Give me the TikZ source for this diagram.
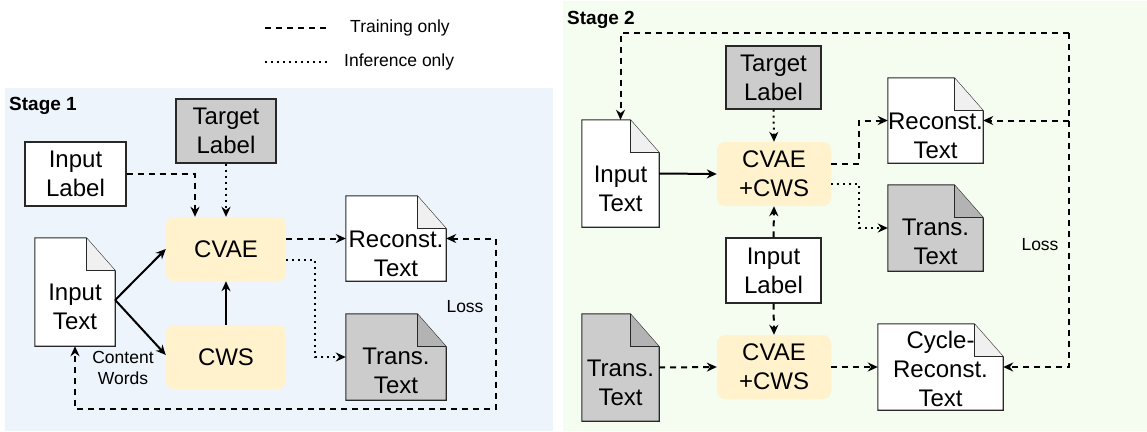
\documentclass[tikz,border=0pt]{standalone}
\usepackage{fontspec}
\setmainfont{Liberation Sans}
\usetikzlibrary{arrows.meta,calc}

\definecolor{paneA}{RGB}{237,244,252}
\definecolor{paneB}{RGB}{244,253,240}
\definecolor{modfill}{RGB}{255,242,204}
\definecolor{grayfill}{RGB}{204,204,204}
\definecolor{grayfold}{RGB}{179,179,179}
\definecolor{whitefold}{RGB}{240,240,240}
\definecolor{inkline}{RGB}{40,40,40}

\tikzset{
  every node/.style={font=\fontsize{24}{29}\selectfont, text=black},
  labelbox/.style={draw=inkline, line width=1.1pt, inner sep=0pt, align=center},
  module/.style={fill=modfill, rounded corners=8pt, inner sep=0pt, align=center,
                 minimum width=#1, minimum height=64pt},
  paper/.style={inner sep=0pt},
  papertext/.style={inner sep=0pt, align=center},
  smalltext/.style={font=\fontsize{17.5}{21}\selectfont, inner sep=0pt, align=center},
  stagetext/.style={font=\fontsize{19}{22}\selectfont\bfseries, inner sep=0pt},
  tip/.style={-{Stealth[length=10pt,width=9pt]}},
  conn/.style={line width=2pt, tip},
  train/.style={conn, dash pattern=on 6pt off 5pt},
  infer/.style={conn, dash pattern=on 2pt off 4pt},
}

% document outline with a folded top-right corner around an empty frame node
\newcommand\paperframe[3]{%
  \draw[inkline, line width=1.1pt, fill=#2, line join=miter]
    (#1.north west) -- ([xshift=-29pt]#1.north east) -- ([yshift=-33pt]#1.north east)
    -- (#1.south east) -- (#1.south west) -- cycle;
  \draw[inkline, line width=1.1pt, fill=#3]
    ([xshift=-29pt]#1.north east) -- ([xshift=-29pt,yshift=-33pt]#1.north east)
    -- ([yshift=-33pt]#1.north east);}

\begin{document}
\begin{tikzpicture}[x=1pt,y=-1pt]
\useasboundingbox (0,0) rectangle (1147,431);

% panels
\fill[paneA] (5,88) rectangle (553,431);
\fill[paneB] (563,1) rectangle (1147,431);

% legend
\coordinate (lgA1) at (265,28);
\coordinate (lgA2) at (330,28);
\coordinate (lgB1) at (265,62);
\coordinate (lgB2) at (330,62);
\draw[line width=2pt, dash pattern=on 6pt off 5pt] (lgA1) -- (lgA2);
\draw[line width=2pt, dash pattern=on 2pt off 4pt] (lgB1) -- (lgB2);
\node[smalltext, anchor=west] (lgAt) at (350,28) {Training only};
\node[smalltext, anchor=west] (lgBt) at (344,62) {Inference only};

% ---------------- Stage 1 ----------------
\node[stagetext, anchor=west] (s1) at (9,106) {Stage 1};

\node[labelbox, fill=white, minimum width=101pt, minimum height=64pt] (il1) at (75.5,174) {Input\\Label};
\node[labelbox, fill=grayfill, minimum width=100pt, minimum height=64pt] (tl1) at (226,131) {Target\\Label};
\node[module=120pt] (cvae1) at (226,249) {CVAE};
\node[module=120pt] (cws1) at (226,357) {CWS};

\node[paper, minimum width=80pt, minimum height=108pt] (it1) at (75,292) {};
\paperframe{it1}{white}{whitefold}
\node[papertext] (it1t) at ([yshift=-15pt]it1.center) {Input\\Text};

\node[paper, minimum width=100pt, minimum height=85pt] (rt1) at (396,238.5) {};
\paperframe{rt1}{white}{whitefold}
\node[papertext] (rt1t) at ([yshift=-15pt]rt1.center) {Reconst.\\Text};

\node[paper, minimum width=100pt, minimum height=86pt] (tt1) at (396,357) {};
\paperframe{tt1}{grayfill}{grayfold}
\node[papertext] (tt1t) at ([yshift=-14pt]tt1.center) {Trans.\\Text};

\draw[train] (il1.east) -| ([xshift=-31pt]cvae1.north);
\draw[infer] (tl1.south) -- (cvae1.north);
\draw[conn] ([yshift=-8pt]it1.east) -- (cvae1.west);
\draw[conn] ([yshift=-8pt]it1.east) -- ([yshift=2pt]cws1.west);
\draw[conn] (cws1.north) -- (cvae1.south);
\draw[train] (rt1.west -| cvae1.east) -- (rt1.west);
\draw[infer] ([yshift=-11pt]cvae1.east) -- ++(29,0) |- (tt1.west);

\coordinate (loop1) at (496,409);
\draw[train, {Stealth[length=10pt,width=9pt]}-{Stealth[length=10pt,width=9pt]}]
  (rt1.east) -| (loop1) -| (it1.south);
\node[smalltext] (loss1) at (465,307) {Loss};
\node[smalltext] (cw1) at (123,368) {Content\\Words};

% ---------------- Stage 2 ----------------
\node[stagetext, anchor=west] (s2) at (567,20) {Stage 2};

\node[labelbox, fill=grayfill, minimum width=95pt, minimum height=63pt] (tl2) at (773.5,77.5) {Target\\Label};
\node[module=114pt] (cc2a) at (774,174) {CVAE\\+CWS};
\node[labelbox, fill=white, minimum width=95pt, minimum height=65pt] (il2) at (773.5,270.5) {Input\\Label};
\node[module=114pt] (cc2b) at (774,367) {CVAE\\+CWS};

\node[paper, minimum width=77pt, minimum height=107pt] (it2) at (620.5,173.5) {};
\paperframe{it2}{white}{whitefold}
\node[papertext] (it2t) at ([yshift=-15pt]it2.center) {Input\\Text};

\node[paper, minimum width=77pt, minimum height=107pt] (tt3) at (620.5,367.5) {};
\paperframe{tt3}{grayfill}{grayfold}
\node[papertext] (tt3t) at ([yshift=-15pt]tt3.center) {Trans.\\Text};

\node[paper, minimum width=95pt, minimum height=85pt] (rt2) at (935.5,120.5) {};
\paperframe{rt2}{white}{whitefold}
\node[papertext] (rt2t) at ([yshift=-15pt]rt2.center) {Reconst.\\Text};

\node[paper, minimum width=95pt, minimum height=86pt] (tt2) at (935.5,228) {};
\paperframe{tt2}{grayfill}{grayfold}
\node[papertext] (tt2t) at ([yshift=-14pt]tt2.center) {Trans.\\Text};

\node[paper, minimum width=125pt, minimum height=86pt] (cr2) at (940.5,367) {};
\paperframe{cr2}{white}{whitefold}
\node[papertext] (cr2t) at ([yshift=-2pt]cr2.center) {Cycle-\\Reconst.\\Text};

\draw[conn] (it2.east) -- (cc2a.west);
\draw[infer] (tl2.south) -- (cc2a.north);
\draw[train] ([yshift=10pt]cc2a.east) -- ++(28,0) |- (rt2.west);
\draw[infer] ([yshift=-10pt]cc2a.east) -- ++(28,0) |- (tt2.west);
\draw[train] (il2.north) -- (cc2a.south);
\draw[train] (il2.south) -- (cc2b.north);
\draw[train] (tt3.east) -- (cc2b.west);
\draw[train] (cc2b.east) -- (cr2.west);

\coordinate (loop2) at (1069,33);
\draw[train] (loop2) -| (it2.north);
\draw[train] (loop2) |- (cr2.east);
\draw[train] (rt2.east -| loop2) -- (rt2.east);
\node[smalltext] (loss2) at (1040,245) {Loss};
\end{tikzpicture}
\end{document}
